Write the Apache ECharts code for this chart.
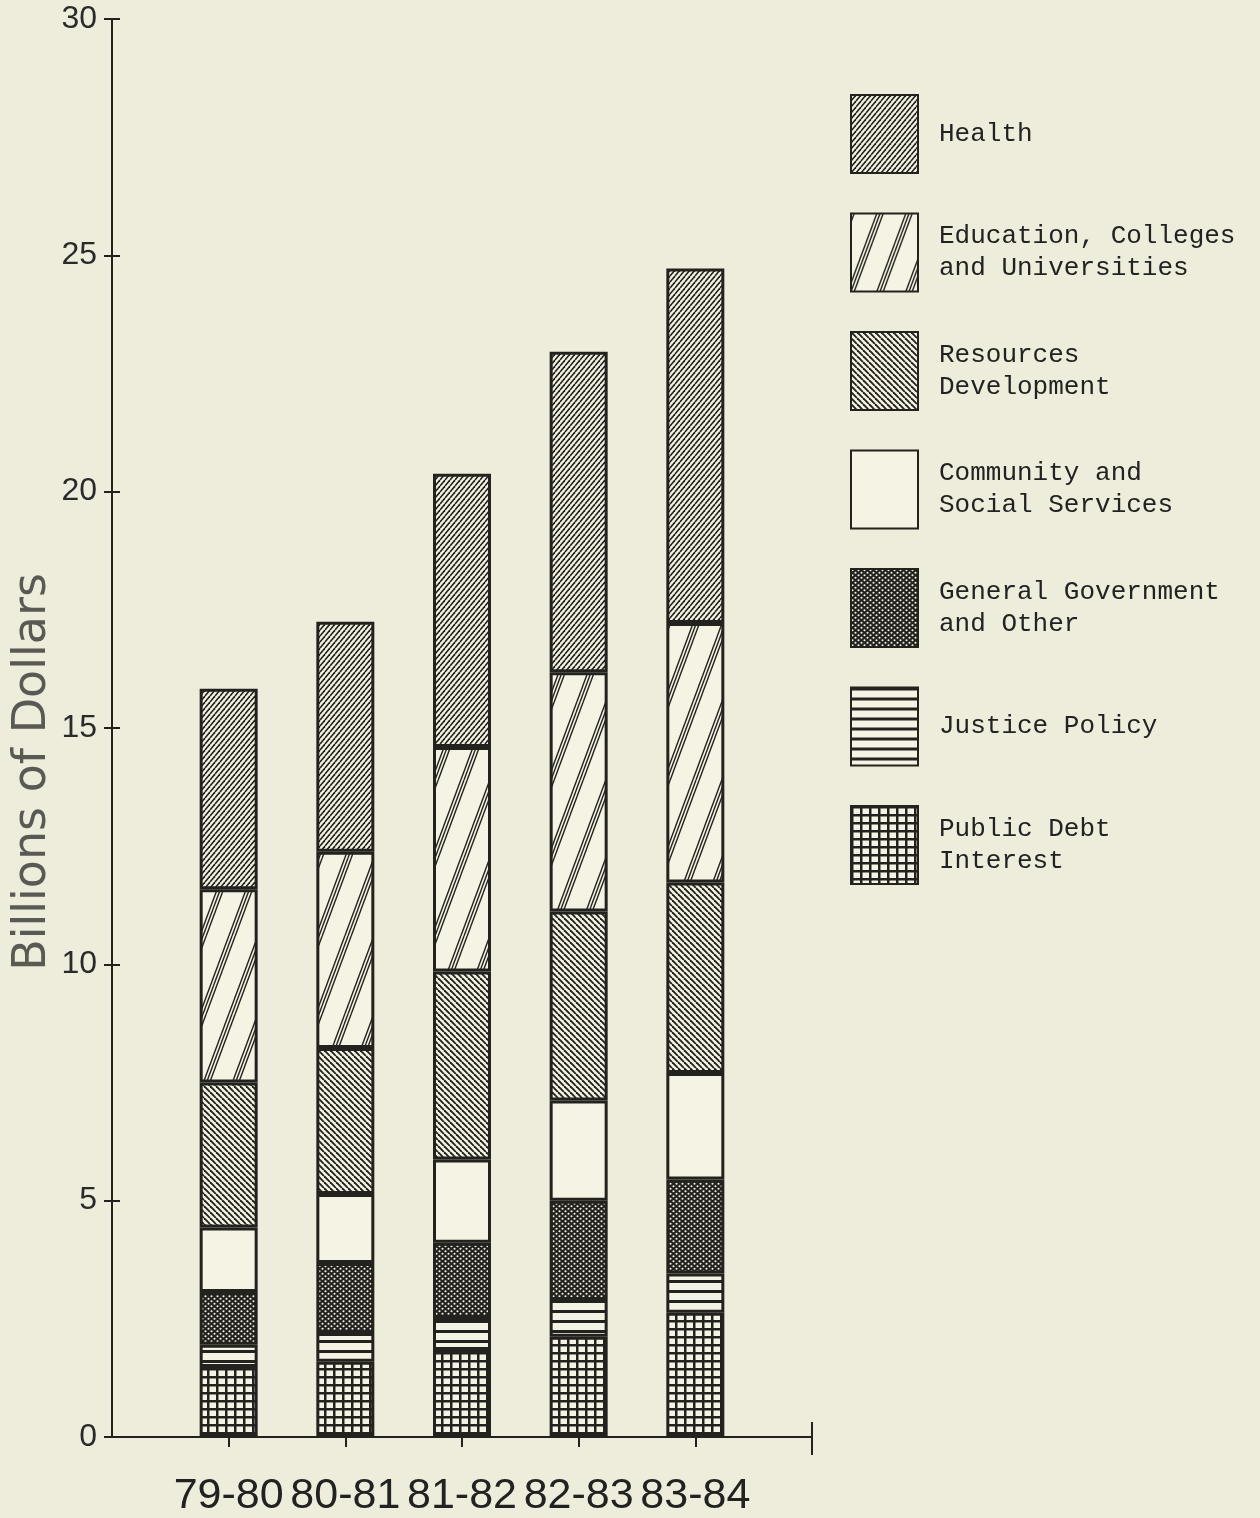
<!DOCTYPE html>
<html><head><meta charset="utf-8">
<script src="https://cdn.jsdelivr.net/npm/echarts@6/dist/echarts.min.js"></script>
<style>html,body{margin:0;padding:0;background:#eeeddb}#c{width:1260px;height:1518px}</style>
</head><body><div id="c"></div><script>
// ---- data ----
const years = ['79-80', '80-81', '81-82', '82-83', '83-84'];
const legendOrder = ['Health', 'Education, Colleges and Universities', 'Resources Development',
  'Community and Social Services', 'General Government and Other', 'Justice Policy', 'Public Debt Interest'];
const legendLabels = ['Health', 'Education, Colleges\nand Universities', 'Resources\nDevelopment',
  'Community and\nSocial Services', 'General Government\nand Other', 'Justice Policy', 'Public Debt\nInterest'];
const publicDebt = [1.48, 1.59, 1.84, 2.12, 2.63];
const justice    = [0.47, 0.61, 0.68, 0.78, 0.83];
const generalGov = [1.12, 1.48, 1.59, 2.10, 1.99];
const community  = [1.36, 1.46, 1.76, 2.12, 2.25];
const resources  = [3.07, 3.09, 3.98, 4.00, 4.03];
const education  = [4.09, 4.15, 4.75, 5.06, 5.49];
const health     = [4.24, 4.87, 5.78, 6.78, 7.50];
const yTicks = [0, 5, 10, 15, 20, 25, 30];

// ---- patterns ----
const INK = '#24221e', LIGHT = '#f4f3e4';
function pat(w, h, bg, draw) {
  const c = document.createElement('canvas'); c.width = w; c.height = h;
  const g = c.getContext('2d'); g.fillStyle = bg; g.fillRect(0, 0, w, h);
  g.strokeStyle = INK; g.fillStyle = INK; draw(g, w, h);
  return { image: c, repeat: 'repeat' };
}
function upLines(g, w, h, offs, lw) {
  g.lineWidth = lw;
  for (const x0 of [-w, 0, w]) for (const o of offs) {
    g.beginPath(); g.moveTo(x0 + o, h); g.lineTo(x0 + o + w, 0); g.stroke();
  }
}
function downLines(g, w, h, lw) {
  g.lineWidth = lw;
  for (const x0 of [-w, 0, w]) { g.beginPath(); g.moveTo(x0, 0); g.lineTo(x0 + w, h); g.stroke(); }
}
const pHealth = pat(5, 6, LIGHT, (g, w, h) => upLines(g, w, h, [0], 1.6));
const pEdu = pat(29, 78, LIGHT, (g, w, h) => upLines(g, w, h, [-3.2, 0, 3.2], 1.4));
const pRes = pat(6, 6, LIGHT, (g, w, h) => downLines(g, w, h, 1.9));
const pComm = LIGHT;
const pGen = pat(6, 5, INK, (g) => {
  g.fillStyle = LIGHT;
  [[1.5, 1.25], [4.5, 3.75]].forEach(([x, y]) => { g.beginPath(); g.arc(x, y, 1.05, 0, Math.PI * 2); g.fill(); });
});
const pJus = pat(4, 10, LIGHT, (g) => { g.fillRect(0, 0, 4, 3); });
const pDebt = pat(9, 8, LIGHT, (g) => { g.fillRect(0, 0, 9, 2.5); g.fillRect(0, 0, 2.5, 8); });

const xCats = [''].concat(years, ['']);
const wrap = (arr) => ['-'].concat(arr, ['-']);

function bar(name, data, color) {
  return {
    name, type: 'bar', stack: 'total', barWidth: 58, data: wrap(data),
    itemStyle: { color, borderColor: INK, borderWidth: 3 },
    emphasis: { disabled: true }
  };
}

const NUMFONT = "'Liberation Sans', Arial, sans-serif";
const chart = echarts.init(document.getElementById('c'), null, { renderer: 'canvas' });
chart.setOption({
  animation: false,
  backgroundColor: '#eeeddb',
  grid: { left: 112, right: 448, top: 19, bottom: 81, containLabel: false, outerBoundsMode: 'none' },
  legend: {
    data: legendOrder, orient: 'vertical', left: 850, top: 94, padding: 0, icon: 'rect',
    itemWidth: 67, itemHeight: 78, itemGap: 38.5, selectedMode: false,
    itemStyle: { borderColor: INK, borderWidth: 2 },
    formatter: (n) => legendLabels[legendOrder.indexOf(n)],
    textStyle: { fontFamily: 'Liberation Mono', fontSize: 26, color: '#222', lineHeight: 32, padding: [0, 0, 0, 16] }
  },
  xAxis: [
    { type: 'category', data: xCats, boundaryGap: false,
      axisLine: { lineStyle: { color: INK, width: 2 } },
      axisTick: { interval: (i) => i >= 1 && i <= 5, length: 10, lineStyle: { color: INK, width: 2 } },
      axisLabel: { interval: 0, margin: 38, fontFamily: NUMFONT, fontSize: 43, color: '#222' } },
    { type: 'category', data: xCats, boundaryGap: false, position: 'bottom',
      axisLine: { show: false }, axisLabel: { show: false },
      axisTick: { interval: (i) => i === 6, length: 18, lineStyle: { color: INK, width: 2 } } },
    { type: 'category', data: xCats, boundaryGap: false, position: 'bottom',
      axisLine: { show: false }, axisLabel: { show: false },
      axisTick: { inside: true, interval: (i) => i === 6, length: 15, lineStyle: { color: INK, width: 2 } } }
  ],
  yAxis: [
    { type: 'value', min: yTicks[0], max: yTicks[yTicks.length - 1], interval: 5,
      name: 'Billions of Dollars', nameLocation: 'middle', nameRotate: 90, nameGap: 56, nameMoveOverlap: false,
      nameTextStyle: { fontFamily: 'DejaVu Sans', fontSize: 46, lineHeight: 46, color: '#5a5a55', padding: [0, 88, 0, 0] },
      axisLine: { show: true, lineStyle: { color: INK, width: 2 } },
      axisTick: { show: true, length: 8, lineStyle: { color: INK, width: 2 } },
      axisLabel: { margin: 15, fontFamily: NUMFONT, fontSize: 32, color: '#2a2a2a' },
      splitLine: { show: false } },
    { type: 'value', min: yTicks[0], max: yTicks[yTicks.length - 1], interval: 5, position: 'left',
      axisLine: { show: false }, axisLabel: { show: false }, splitLine: { show: false },
      axisTick: { show: true, inside: true, length: 8, lineStyle: { color: INK, width: 2 } } }
  ],
  series: [
    bar('Public Debt Interest', publicDebt, pDebt),
    bar('Justice Policy', justice, pJus),
    bar('General Government and Other', generalGov, pGen),
    bar('Community and Social Services', community, pComm),
    bar('Resources Development', resources, pRes),
    bar('Education, Colleges and Universities', education, pEdu),
    bar('Health', health, pHealth)
  ]
});
</script></body></html>
